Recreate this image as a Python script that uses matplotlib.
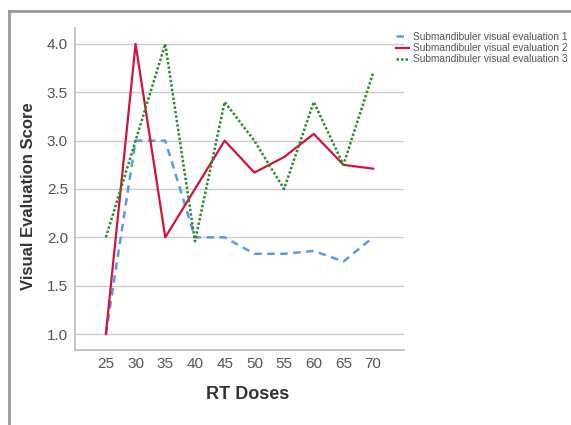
import matplotlib.pyplot as plt
from matplotlib.lines import Line2D

plt.rcParams['font.family'] = ['Liberation Sans', 'DejaVu Sans']

# data
doses = [25, 30, 35, 40, 45, 50, 55, 60, 65, 70]
eval1 = [1.0, 3.0, 3.0, 2.0, 2.0, 1.83, 1.83, 1.86, 1.75, 2.0]
eval2 = [1.0, 4.0, 2.0, 2.5, 3.0, 2.67, 2.83, 3.07, 2.75, 2.71]
eval3 = [2.0, 3.0, 4.0, 1.96, 3.4, 3.0, 2.5, 3.4, 2.75, 3.7]
labels = ['Submandibuler visual evaluation 1',
          'Submandibuler visual evaluation 2',
          'Submandibuler visual evaluation 3']
yticks = [1.0, 1.5, 2.0, 2.5, 3.0, 3.5, 4.0]

fig = plt.figure(figsize=(5.71, 4.25), dpi=100)
ax = fig.add_axes([75 / 571, 75 / 425, 329 / 571, 322 / 425])

l1, = ax.plot(doses, eval1, color='#5a9be6', lw=1.8, linestyle=(0, (3, 2.2)))
l2, = ax.plot(doses, eval2, color='#d3123c', lw=1.6)
l3, = ax.plot(doses, eval3, color='#2e8b2e', lw=1.8, linestyle=(0, (1, 0.8)))

ax.set_xlim(19.8, 75.2)
ax.set_ylim(0.835, 4.165)
ax.set_xticks(doses)
ax.set_yticks(yticks)
ax.set_yticklabels([f'{v:.1f}' for v in yticks])
ax.grid(axis='y', color='#cccccc', lw=1)
ax.set_axisbelow(True)
ax.tick_params(length=0, labelsize=11, labelcolor='#555555', pad=5)
for s in ['top', 'right']:
    ax.spines[s].set_visible(False)
for s in ['left', 'bottom']:
    ax.spines[s].set_color('#bbbbbb')
    ax.spines[s].set_linewidth(1.2)

ax.set_xlabel('RT Doses', fontsize=13, fontweight='bold', color='#333333')
ax.xaxis.set_label_coords(0.526, -0.113)
ax.set_ylabel('Visual Evaluation Score', fontsize=12, fontweight='bold', color='#333333')
ax.yaxis.set_label_coords(-0.12, 0.478)

fig.legend([l1, l2, l3], labels, loc='upper left',
           bbox_to_anchor=(396 / 571, 1 - 32 / 425), frameon=False,
           fontsize=7.3, labelcolor='#555555', handlelength=1.3,
           handletextpad=0.35, labelspacing=0.12, borderpad=0, borderaxespad=0)

# grey frame round the picture
fig.add_artist(Line2D([9 / 571, 1], [1 - 11 / 425, 1 - 11 / 425],
                      transform=fig.transFigure, color='#999999', lw=2))
fig.add_artist(Line2D([9 / 571, 9 / 571], [0, 1 - 11 / 425],
                      transform=fig.transFigure, color='#999999', lw=2))

fig.savefig('out.png', dpi=100, facecolor='white')
